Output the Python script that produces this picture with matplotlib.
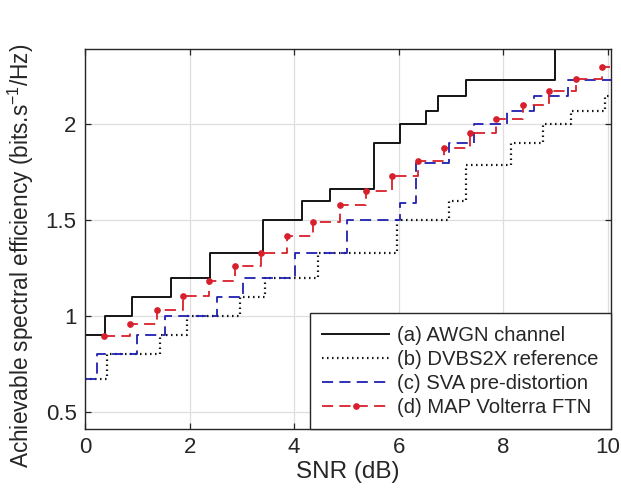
import matplotlib
matplotlib.use("Agg")
import matplotlib.pyplot as plt

# ---- data ----
snr_awgn = [0, 0.38, 0.90, 1.65, 2.40, 3.41, 4.15, 4.68, 5.53, 6.02, 6.52, 6.76, 7.29, 8.99]
eff_awgn = [0.90, 1.00, 1.10, 1.20, 1.33, 1.50, 1.60, 1.66, 1.90, 2.00, 2.07, 2.15, 2.23, 2.50]

snr_dvb = [0, 0.42, 1.44, 1.95, 2.96, 3.45, 4.46, 5.97, 6.96, 7.28, 8.14, 8.75, 9.29, 9.95]
eff_dvb = [0.67, 0.80, 0.90, 1.00, 1.10, 1.20, 1.33, 1.50, 1.60, 1.79, 1.90, 2.00, 2.07, 2.15]

snr_sva = [0, 0.23, 1.00, 1.53, 2.52, 3.02, 4.02, 5.01, 6.03, 6.33, 6.96, 7.44, 8.08, 8.58, 9.24]
eff_sva = [0.67, 0.80, 0.90, 1.00, 1.10, 1.20, 1.33, 1.50, 1.59, 1.80, 1.90, 2.00, 2.07, 2.15, 2.23]

snr_map = [0.37, 0.87, 1.37, 1.87, 2.37, 2.87, 3.37, 3.87, 4.37, 4.87, 5.37, 5.87, 6.37,
           6.87, 7.37, 7.87, 8.37, 8.87, 9.40, 9.88]
eff_map = [0.895, 0.96, 1.03, 1.105, 1.18, 1.26, 1.33, 1.415, 1.49, 1.58, 1.65, 1.73, 1.81,
           1.875, 1.955, 2.03, 2.10, 2.175, 2.235, 2.30]

labels = ["(a) AWGN channel", "(b) DVBS2X reference",
          "(c) SVA pre-distortion", "(d) MAP Volterra FTN"]
x_ticks = [0, 2, 4, 6, 8, 10]
y_ticks = [0.5, 1, 1.5, 2]
x_max = 10.06

plt.rcParams["font.family"] = ["Liberation Sans", "DejaVu Sans"]
plt.rcParams["mathtext.fontset"] = "custom"
plt.rcParams["mathtext.rm"] = "Liberation Sans"
plt.rcParams["mathtext.it"] = "Liberation Sans:italic"
plt.rcParams["lines.scale_dashes"] = False

txt = "#262626"
fig = plt.figure(figsize=(6.21, 4.97), dpi=100)
ax = fig.add_axes([85/621, 1-429/497, (611-85)/621, (429-49)/497])


def ext(x, y):
    return list(x) + [x_max], list(y) + [y[-1]]


xa, ya = ext(snr_awgn, eff_awgn)
ax.plot(xa, ya, drawstyle="steps-post", color="#141414", lw=1.4, label=labels[0])
xd, yd = ext(snr_dvb, eff_dvb)
ax.plot(xd, yd, drawstyle="steps-post", color="#141414", lw=1.6,
        dashes=(1.1, 2.5), label=labels[1])
xs, ys = ext(snr_sva, eff_sva)
ax.plot(xs, ys, drawstyle="steps-post", color="#2020b0", lw=1.3,
        dashes=(8, 4.5), label=labels[2])
xm, ym = ext(snr_map, eff_map)
ax.plot(xm, ym, drawstyle="steps-post", color="#d8202c", lw=1.3,
        dashes=(8, 4.5), marker="o", markersize=3.8,
        markevery=list(range(len(snr_map))), label=labels[3])

ax.set_xlim(0, x_max)
ax.set_ylim(0.41, 2.393)
ax.set_xticks(x_ticks)
ax.set_xticklabels([str(v) for v in x_ticks])
ax.set_yticks(y_ticks)
ax.set_yticklabels(["0.5", "1", "1.5", "2"])
ax.grid(True, color="#dedede", lw=0.9)
ax.set_axisbelow(True)
ax.tick_params(direction="in", length=4, width=0.9, colors=txt, labelsize=16,
               top=True, right=True, pad=6)
for s in ax.spines.values():
    s.set_color(txt)
    s.set_linewidth(1.0)

ax.set_xlabel("SNR (dB)", fontsize=17.5, color=txt, labelpad=2)
ax.set_ylabel("Achievable spectral efficiency (bits.s$^{-1}$/Hz)", fontsize=16.3,
              color=txt, labelpad=6)
ax.yaxis.set_label_coords(-0.093, 0.455)

leg = ax.legend(loc="lower right", borderaxespad=0, fontsize=14.6, frameon=True,
                fancybox=False, edgecolor=txt, framealpha=1, handlelength=3.3,
                handletextpad=0.4, labelspacing=0.25, borderpad=0.6, numpoints=1)
leg.get_frame().set_linewidth(1.0)
for t in leg.get_texts():
    t.set_color(txt)

fig.savefig("out.png", dpi=100)
